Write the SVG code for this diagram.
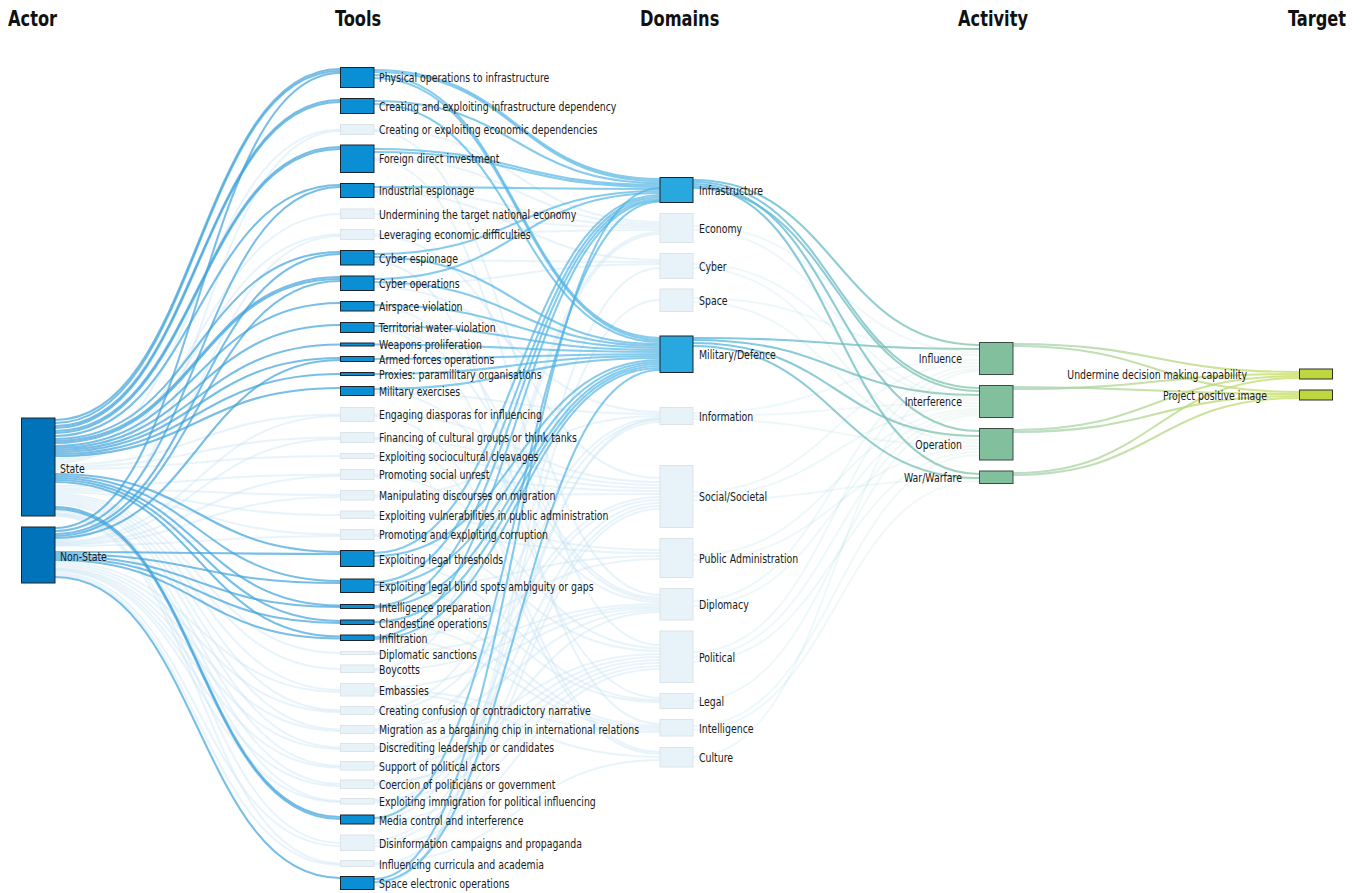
<svg xmlns="http://www.w3.org/2000/svg" width="1367" height="893" viewBox="0 0 1367 893">
<defs>
<linearGradient id="gDA" gradientUnits="userSpaceOnUse" x1="693" y1="0" x2="979" y2="0"><stop offset="0" stop-color="#4fb3e2"/><stop offset="1" stop-color="#86c4a6"/></linearGradient>
<linearGradient id="gAT" gradientUnits="userSpaceOnUse" x1="1013" y1="0" x2="1299" y2="0"><stop offset="0" stop-color="#a3d1b4"/><stop offset="1" stop-color="#c6dd5c"/></linearGradient>
</defs>
<style>
.hd{font-family:"DejaVu Sans Condensed","Liberation Sans",sans-serif;font-size:21px;font-weight:bold;fill:#111;transform-box:fill-box;transform-origin:0 50%;transform:scaleX(0.86)}
.lb{font-family:"DejaVu Sans Condensed","Liberation Sans",sans-serif;font-size:12.5px;fill:#1a1a1a;transform-box:fill-box;transform-origin:0 50%;transform:translate(0,1px) scaleX(0.835)}
.lb.r{text-anchor:end;transform-origin:100% 50%}
.act{fill:#0073bb;stroke:#1c232a;stroke-width:1}
.tool{fill:#0a8ed4;stroke:#1c232a;stroke-width:1}
.dom{fill:#29a8e0;stroke:#1c232a;stroke-width:1}
.lt{fill:#e8f3f9;stroke:#dde4e8;stroke-width:1}
.av{fill:#82bf9c;stroke:#3b4b42;stroke-width:1}
.tg{fill:#bfd73e;stroke:#2d2d2d;stroke-width:1}
.l{fill:none;stroke-width:2.1}
.fa{stroke:#c4e1f2;stroke-opacity:0.38}
.da{stroke:#3ea3dc;stroke-opacity:0.7}
.dt{stroke:#4cb2e3;stroke-opacity:0.68}
.gda{stroke:url(#gDA);stroke-opacity:0.75}
.fda{stroke:url(#gDA);stroke-opacity:0.1}
.gat{stroke:url(#gAT);stroke-opacity:0.75}
</style>
<rect width="1367" height="893" fill="#ffffff"/>
<g id="headers">
<text class="hd" x="8" y="26">Actor</text>
<text class="hd" x="335" y="26">Tools</text>
<text class="hd" x="640" y="26">Domains</text>
<text class="hd" x="958" y="26">Activity</text>
<text class="hd" x="1288" y="26">Target</text>
</g>
<g id="connectors">
<g class="l fa">
<path d="M55 459C197.5 459 197.5 129.5 340 129.5"/>
<path d="M55 461C197.5 461 197.5 214 340 214"/>
<path d="M55 463C197.5 463 197.5 234.5 340 234.5"/>
<path d="M55 465C197.5 465 197.5 414.5 340 414.5"/>
<path d="M55 467C197.5 467 197.5 437.5 340 437.5"/>
<path d="M55 469C197.5 469 197.5 456 340 456"/>
<path d="M55 486C197.5 486 197.5 474.5 340 474.5"/>
<path d="M55 488C197.5 488 197.5 495 340 495"/>
<path d="M55 490C197.5 490 197.5 515 340 515"/>
<path d="M55 492C197.5 492 197.5 534.5 340 534.5"/>
<path d="M55 494C197.5 494 197.5 653 340 653"/>
<path d="M55 496C197.5 496 197.5 669 340 669"/>
<path d="M55 498C197.5 498 197.5 690 340 690"/>
<path d="M55 500C197.5 500 197.5 710.5 340 710.5"/>
<path d="M55 502C197.5 502 197.5 729.5 340 729.5"/>
<path d="M55 504C197.5 504 197.5 747.5 340 747.5"/>
<path d="M55 511C197.5 511 197.5 766 340 766"/>
<path d="M55 513C197.5 513 197.5 784 340 784"/>
<path d="M55 514C197.5 514 197.5 801 340 801"/>
<path d="M55 515C197.5 515 197.5 843 340 843"/>
<path d="M55 516C197.5 516 197.5 863.5 340 863.5"/>
<path d="M55 540C197.5 540 197.5 131 340 131"/>
<path d="M55 541C197.5 541 197.5 236 340 236"/>
<path d="M55 542C197.5 542 197.5 416 340 416"/>
<path d="M55 543C197.5 543 197.5 439 340 439"/>
<path d="M55 544C197.5 544 197.5 476 340 476"/>
<path d="M55 545C197.5 545 197.5 497 340 497"/>
<path d="M55 546C197.5 546 197.5 536 340 536"/>
<path d="M55 562C197.5 562 197.5 692 340 692"/>
<path d="M55 564C197.5 564 197.5 712 340 712"/>
<path d="M55 566C197.5 566 197.5 731 340 731"/>
<path d="M55 568C197.5 568 197.5 749 340 749"/>
<path d="M55 569C197.5 569 197.5 767.5 340 767.5"/>
<path d="M55 570C197.5 570 197.5 786 340 786"/>
<path d="M55 571C197.5 571 197.5 802 340 802"/>
<path d="M55 573C197.5 573 197.5 846 340 846"/>
<path d="M55 575C197.5 575 197.5 865 340 865"/>
<path d="M374 129.5C517 129.5 517 222 660 222"/>
<path d="M374 131C517 131 517 595 660 595"/>
<path d="M374 158C517 158 517 224 660 224"/>
<path d="M374 160C517 160 517 645 660 645"/>
<path d="M374 190C517 190 517 226 660 226"/>
<path d="M374 192C517 192 517 260 660 260"/>
<path d="M374 214C517 214 517 228 660 228"/>
<path d="M374 234.5C517 234.5 517 230 660 230"/>
<path d="M374 236C517 236 517 478 660 478"/>
<path d="M374 260C517 260 517 262 660 262"/>
<path d="M374 262C517 262 517 724 660 724"/>
<path d="M374 285C517 285 517 264 660 264"/>
<path d="M374 287C517 287 517 412 660 412"/>
<path d="M374 307C517 307 517 598 660 598"/>
<path d="M374 328C517 328 517 600 660 600"/>
<path d="M374 330C517 330 517 698 660 698"/>
<path d="M374 391C517 391 517 602 660 602"/>
<path d="M374 393C517 393 517 414 660 414"/>
<path d="M374 414.5C517 414.5 517 482 660 482"/>
<path d="M374 416C517 416 517 752 660 752"/>
<path d="M374 437.5C517 437.5 517 754 660 754"/>
<path d="M374 439C517 439 517 485 660 485"/>
<path d="M374 456C517 456 517 488 660 488"/>
<path d="M374 474.5C517 474.5 517 491 660 491"/>
<path d="M374 476C517 476 517 648 660 648"/>
<path d="M374 495C517 495 517 494 660 494"/>
<path d="M374 497C517 497 517 416 660 416"/>
<path d="M374 515C517 515 517 550 660 550"/>
<path d="M374 534.5C517 534.5 517 553 660 553"/>
<path d="M374 536C517 536 517 651 660 651"/>
<path d="M374 560C517 560 517 700 660 700"/>
<path d="M374 587C517 587 517 702 660 702"/>
<path d="M374 589C517 589 517 556 660 556"/>
<path d="M374 606.5C517 606.5 517 726 660 726"/>
<path d="M374 622.5C517 622.5 517 728 660 728"/>
<path d="M374 638C517 638 517 730 660 730"/>
<path d="M374 639.5C517 639.5 517 559 660 559"/>
<path d="M374 653C517 653 517 604 660 604"/>
<path d="M374 654C517 654 517 232 660 232"/>
<path d="M374 669C517 669 517 234 660 234"/>
<path d="M374 670.5C517 670.5 517 606 660 606"/>
<path d="M374 688C517 688 517 608 660 608"/>
<path d="M374 690C517 690 517 732 660 732"/>
<path d="M374 692C517 692 517 757 660 757"/>
<path d="M374 710C517 710 517 418 660 418"/>
<path d="M374 712C517 712 517 497 660 497"/>
<path d="M374 729C517 729 517 610 660 610"/>
<path d="M374 731C517 731 517 500 660 500"/>
<path d="M374 747C517 747 517 654 660 654"/>
<path d="M374 749C517 749 517 420 660 420"/>
<path d="M374 766C517 766 517 657 660 657"/>
<path d="M374 783C517 783 517 660 660 660"/>
<path d="M374 785C517 785 517 612 660 612"/>
<path d="M374 800C517 800 517 663 660 663"/>
<path d="M374 802C517 802 517 503 660 503"/>
<path d="M374 820C517 820 517 422 660 422"/>
<path d="M374 822C517 822 517 666 660 666"/>
<path d="M374 840C517 840 517 419 660 419"/>
<path d="M374 843C517 843 517 506 660 506"/>
<path d="M374 846C517 846 517 669 660 669"/>
<path d="M374 863C517 863 517 760 660 760"/>
<path d="M374 865C517 865 517 509 660 509"/>
<path d="M374 884C517 884 517 300 660 300"/>
<path d="M374 886C517 886 517 268 660 268"/>
</g>
<g class="l fda">
<path d="M693 226C836 226 836 352 979 352"/>
<path d="M693 230C836 230 836 398 979 398"/>
<path d="M693 264C836 264 836 400 979 400"/>
<path d="M693 268C836 268 836 440 979 440"/>
<path d="M693 298C836 298 836 355 979 355"/>
<path d="M693 302C836 302 836 443 979 443"/>
<path d="M693 413C836 413 836 360 979 360"/>
<path d="M693 416C836 416 836 403 979 403"/>
<path d="M693 419C836 419 836 446 979 446"/>
<path d="M693 492C836 492 836 363 979 363"/>
<path d="M693 496C836 496 836 406 979 406"/>
<path d="M693 500C836 500 836 479 979 479"/>
<path d="M693 555C836 555 836 409 979 409"/>
<path d="M693 560C836 560 836 449 979 449"/>
<path d="M693 601C836 601 836 366 979 366"/>
<path d="M693 606C836 606 836 411 979 411"/>
<path d="M693 652C836 652 836 369 979 369"/>
<path d="M693 657C836 657 836 413 979 413"/>
<path d="M693 662C836 662 836 452 979 452"/>
<path d="M693 701C836 701 836 415 979 415"/>
<path d="M693 726C836 726 836 455 979 455"/>
<path d="M693 730C836 730 836 481 979 481"/>
<path d="M693 757C836 757 836 371 979 371"/>
</g>
<g class="l da">
<path d="M55 420C197.5 420 197.5 69 340 69"/>
<path d="M55 423C197.5 423 197.5 71 340 71"/>
<path d="M55 528C197.5 528 197.5 73 340 73"/>
<path d="M55 426C197.5 426 197.5 100 340 100"/>
<path d="M55 428C197.5 428 197.5 102 340 102"/>
<path d="M55 431C197.5 431 197.5 147 340 147"/>
<path d="M55 433C197.5 433 197.5 149 340 149"/>
<path d="M55 436C197.5 436 197.5 185 340 185"/>
<path d="M55 531C197.5 531 197.5 187 340 187"/>
<path d="M55 439C197.5 439 197.5 252 340 252"/>
<path d="M55 534C197.5 534 197.5 254 340 254"/>
<path d="M55 441C197.5 441 197.5 277 340 277"/>
<path d="M55 443C197.5 443 197.5 279 340 279"/>
<path d="M55 536C197.5 536 197.5 281 340 281"/>
<path d="M55 446C197.5 446 197.5 303 340 303"/>
<path d="M55 448C197.5 448 197.5 325 340 325"/>
<path d="M55 450C197.5 450 197.5 344.5 340 344.5"/>
<path d="M55 452C197.5 452 197.5 358 340 358"/>
<path d="M55 538C197.5 538 197.5 360 340 360"/>
<path d="M55 454C197.5 454 197.5 374 340 374"/>
<path d="M55 456C197.5 456 197.5 388 340 388"/>
<path d="M55 474C197.5 474 197.5 552 340 552"/>
<path d="M55 552C197.5 552 197.5 554 340 554"/>
<path d="M55 476C197.5 476 197.5 581 340 581"/>
<path d="M55 554C197.5 554 197.5 583 340 583"/>
<path d="M55 478C197.5 478 197.5 605.5 340 605.5"/>
<path d="M55 556C197.5 556 197.5 607 340 607"/>
<path d="M55 480C197.5 480 197.5 621 340 621"/>
<path d="M55 558C197.5 558 197.5 623 340 623"/>
<path d="M55 482C197.5 482 197.5 636.5 340 636.5"/>
<path d="M55 560C197.5 560 197.5 638.5 340 638.5"/>
<path d="M55 507C197.5 507 197.5 817 340 817"/>
<path d="M55 509C197.5 509 197.5 819 340 819"/>
<path d="M55 577C197.5 577 197.5 878 340 878"/>
</g>
<g class="l dt">
<path d="M374 70C517 70 517 179 660 179"/>
<path d="M374 72C517 72 517 181 660 181"/>
<path d="M374 75C517 75 517 338 660 338"/>
<path d="M374 78C517 78 517 340 660 340"/>
<path d="M374 101C517 101 517 183 660 183"/>
<path d="M374 104C517 104 517 342 660 342"/>
<path d="M374 149C517 149 517 185 660 185"/>
<path d="M374 152C517 152 517 187 660 187"/>
<path d="M374 187C517 187 517 189 660 189"/>
<path d="M374 254C517 254 517 191 660 191"/>
<path d="M374 257C517 257 517 344 660 344"/>
<path d="M374 279C517 279 517 193 660 193"/>
<path d="M374 282C517 282 517 346 660 346"/>
<path d="M374 305C517 305 517 348 660 348"/>
<path d="M374 326C517 326 517 350 660 350"/>
<path d="M374 344.5C517 344.5 517 352 660 352"/>
<path d="M374 359C517 359 517 354 660 354"/>
<path d="M374 374C517 374 517 356 660 356"/>
<path d="M374 389C517 389 517 358 660 358"/>
<path d="M374 553C517 553 517 195 660 195"/>
<path d="M374 556C517 556 517 360 660 360"/>
<path d="M374 582C517 582 517 197 660 197"/>
<path d="M374 585C517 585 517 362 660 362"/>
<path d="M374 606C517 606 517 199 660 199"/>
<path d="M374 607.5C517 607.5 517 364 660 364"/>
<path d="M374 622C517 622 517 366 660 366"/>
<path d="M374 637C517 637 517 200.5 660 200.5"/>
<path d="M374 639C517 639 517 368 660 368"/>
<path d="M374 818C517 818 517 201.5 660 201.5"/>
<path d="M374 879C517 879 517 188 660 188"/>
<path d="M374 882C517 882 517 370 660 370"/>
</g>
<g class="l gda">
<path d="M693 180C836 180 836 345 979 345"/>
<path d="M693 182C836 182 836 388 979 388"/>
<path d="M693 184C836 184 836 431 979 431"/>
<path d="M693 186C836 186 836 474 979 474"/>
<path d="M693 188C836 188 836 391 979 391"/>
<path d="M693 338C836 338 836 349 979 349"/>
<path d="M693 340C836 340 836 395 979 395"/>
<path d="M693 343C836 343 836 436 979 436"/>
<path d="M693 346C836 346 836 478 979 478"/>
</g>
<g class="l gat">
<path d="M1013 344C1156 344 1156 372 1299 372"/>
<path d="M1013 346C1156 346 1156 392 1299 392"/>
<path d="M1013 387C1156 387 1156 394 1299 394"/>
<path d="M1013 389C1156 389 1156 374 1299 374"/>
<path d="M1013 430C1156 430 1156 376 1299 376"/>
<path d="M1013 432C1156 432 1156 396 1299 396"/>
<path d="M1013 473C1156 473 1156 378 1299 378"/>
<path d="M1013 475C1156 475 1156 398 1299 398"/>
</g>
</g>
<g id="actor-state"><rect class="act" x="21.5" y="418" width="33.5" height="98"/><text class="lb" x="60" y="472">State</text></g>
<g id="actor-nonstate"><rect class="act" x="21.5" y="527" width="33.5" height="56"/><text class="lb" x="60" y="560">Non-State</text></g>
<g id="tool-1"><rect class="tool" x="340.5" y="67.5" width="33.5" height="20"/><text class="lb" x="379" y="81.5">Physical operations to infrastructure</text></g>
<g id="tool-2"><rect class="tool" x="340.5" y="98.5" width="33.5" height="15"/><text class="lb" x="379" y="110">Creating and exploiting infrastructure dependency</text></g>
<g id="tool-3"><rect class="lt" x="340.5" y="124.5" width="33.5" height="10"/><text class="lb" x="379" y="133.5">Creating or exploiting economic dependencies</text></g>
<g id="tool-4"><rect class="tool" x="340.5" y="145" width="33.5" height="27.5"/><text class="lb" x="379" y="162.5">Foreign direct investment</text></g>
<g id="tool-5"><rect class="tool" x="340.5" y="183.5" width="33.5" height="14"/><text class="lb" x="379" y="194.5">Industrial espionage</text></g>
<g id="tool-6"><rect class="lt" x="340.5" y="209" width="33.5" height="9.5"/><text class="lb" x="379" y="218">Undermining the target national economy</text></g>
<g id="tool-7"><rect class="lt" x="340.5" y="229.5" width="33.5" height="10"/><text class="lb" x="379" y="238.5">Leveraging economic difficulties</text></g>
<g id="tool-8"><rect class="tool" x="340.5" y="250.5" width="33.5" height="14.5"/><text class="lb" x="379" y="262">Cyber espionage</text></g>
<g id="tool-9"><rect class="tool" x="340.5" y="276" width="33.5" height="14.5"/><text class="lb" x="379" y="287.5">Cyber operations</text></g>
<g id="tool-10"><rect class="tool" x="340.5" y="301.5" width="33.5" height="9.5"/><text class="lb" x="379" y="310.5">Airspace violation</text></g>
<g id="tool-11"><rect class="tool" x="340.5" y="322.5" width="33.5" height="10"/><text class="lb" x="379" y="331.5">Territorial water violation</text></g>
<g id="tool-12"><rect class="tool" x="340.5" y="343" width="33.5" height="3"/><text class="lb" x="379" y="348.5">Weapons proliferation</text></g>
<g id="tool-13"><rect class="tool" x="340.5" y="356.5" width="33.5" height="5"/><text class="lb" x="379" y="363.5">Armed forces operations</text></g>
<g id="tool-14"><rect class="tool" x="340.5" y="372.5" width="33.5" height="3"/><text class="lb" x="379" y="378.5">Proxies: paramilitary organisations</text></g>
<g id="tool-15"><rect class="tool" x="340.5" y="386.5" width="33.5" height="9"/><text class="lb" x="379" y="395">Military exercises</text></g>
<g id="tool-16"><rect class="lt" x="340.5" y="407.5" width="33.5" height="14"/><text class="lb" x="379" y="418.5">Engaging diasporas for influencing</text></g>
<g id="tool-17"><rect class="lt" x="340.5" y="432.5" width="33.5" height="10"/><text class="lb" x="379" y="441.5">Financing of cultural groups or think tanks</text></g>
<g id="tool-18"><rect class="lt" x="340.5" y="453.5" width="33.5" height="5"/><text class="lb" x="379" y="460">Exploiting sociocultural cleavages</text></g>
<g id="tool-19"><rect class="lt" x="340.5" y="469.5" width="33.5" height="10"/><text class="lb" x="379" y="478.5">Promoting social unrest</text></g>
<g id="tool-20"><rect class="lt" x="340.5" y="490.5" width="33.5" height="9.5"/><text class="lb" x="379" y="499.5">Manipulating discourses on migration</text></g>
<g id="tool-21"><rect class="lt" x="340.5" y="511" width="33.5" height="7.5"/><text class="lb" x="379" y="519">Exploiting vulnerabilities in public administration</text></g>
<g id="tool-22"><rect class="lt" x="340.5" y="529.5" width="33.5" height="10"/><text class="lb" x="379" y="538.5">Promoting and exploiting corruption</text></g>
<g id="tool-23"><rect class="tool" x="340.5" y="550.5" width="33.5" height="16"/><text class="lb" x="379" y="563">Exploiting legal thresholds</text></g>
<g id="tool-24"><rect class="tool" x="340.5" y="579" width="33.5" height="13.5"/><text class="lb" x="379" y="590">Exploiting legal blind spots ambiguity or gaps</text></g>
<g id="tool-25"><rect class="tool" x="340.5" y="604.5" width="33.5" height="4"/><text class="lb" x="379" y="611">Intelligence preparation</text></g>
<g id="tool-26"><rect class="tool" x="340.5" y="620" width="33.5" height="4.5"/><text class="lb" x="379" y="627">Clandestine operations</text></g>
<g id="tool-27"><rect class="tool" x="340.5" y="635" width="33.5" height="5.5"/><text class="lb" x="379" y="642.5">Infiltration</text></g>
<g id="tool-28"><rect class="lt" x="340.5" y="651.5" width="33.5" height="3"/><text class="lb" x="379" y="658">Diplomatic sanctions</text></g>
<g id="tool-29"><rect class="lt" x="340.5" y="665" width="33.5" height="7.5"/><text class="lb" x="379" y="673.5">Boycotts</text></g>
<g id="tool-30"><rect class="lt" x="340.5" y="683.5" width="33.5" height="12.5"/><text class="lb" x="379" y="694.5">Embassies</text></g>
<g id="tool-31"><rect class="lt" x="340.5" y="706.5" width="33.5" height="8"/><text class="lb" x="379" y="714.5">Creating confusion or contradictory narrative</text></g>
<g id="tool-32"><rect class="lt" x="340.5" y="725.5" width="33.5" height="8"/><text class="lb" x="379" y="733.5">Migration as a bargaining chip in international relations</text></g>
<g id="tool-33"><rect class="lt" x="340.5" y="743.5" width="33.5" height="8"/><text class="lb" x="379" y="751.5">Discrediting leadership or candidates</text></g>
<g id="tool-34"><rect class="lt" x="340.5" y="761.5" width="33.5" height="8.5"/><text class="lb" x="379" y="770">Support of political actors</text></g>
<g id="tool-35"><rect class="lt" x="340.5" y="780" width="33.5" height="8.5"/><text class="lb" x="379" y="788.5">Coercion of politicians or government</text></g>
<g id="tool-36"><rect class="lt" x="340.5" y="798.5" width="33.5" height="5.5"/><text class="lb" x="379" y="805.5">Exploiting immigration for political influencing</text></g>
<g id="tool-37"><rect class="tool" x="340.5" y="815" width="33.5" height="9"/><text class="lb" x="379" y="824">Media control and interference</text></g>
<g id="tool-38"><rect class="lt" x="340.5" y="835" width="33.5" height="15.5"/><text class="lb" x="379" y="847.5">Disinformation campaigns and propaganda</text></g>
<g id="tool-39"><rect class="lt" x="340.5" y="860.5" width="33.5" height="6"/><text class="lb" x="379" y="868">Influencing curricula and academia</text></g>
<g id="tool-40"><rect class="tool" x="340.5" y="876.5" width="33.5" height="13"/><text class="lb" x="379" y="887.5">Space electronic operations</text></g>
<g id="dom-infrastructure"><rect class="dom" x="660" y="177.5" width="33" height="25"/><text class="lb" x="699" y="194.5">Infrastructure</text></g>
<g id="dom-economy"><rect class="lt" x="660" y="213.5" width="33" height="29"/><text class="lb" x="699" y="232.5">Economy</text></g>
<g id="dom-cyber"><rect class="lt" x="660" y="253.5" width="33" height="25"/><text class="lb" x="699" y="270.5">Cyber</text></g>
<g id="dom-space"><rect class="lt" x="660" y="289" width="33" height="22.5"/><text class="lb" x="699" y="304.5">Space</text></g>
<g id="dom-military"><rect class="dom" x="660" y="336" width="33" height="36.5"/><text class="lb" x="699" y="358.5">Military/Defence</text></g>
<g id="dom-information"><rect class="lt" x="660" y="407.5" width="33" height="17"/><text class="lb" x="699" y="420.5">Information</text></g>
<g id="dom-social"><rect class="lt" x="660" y="465.5" width="33" height="62"/><text class="lb" x="699" y="500.5">Social/Societal</text></g>
<g id="dom-publicadmin"><rect class="lt" x="660" y="538.5" width="33" height="39"/><text class="lb" x="699" y="562.5">Public Administration</text></g>
<g id="dom-diplomacy"><rect class="lt" x="660" y="588.5" width="33" height="31.5"/><text class="lb" x="699" y="608.5">Diplomacy</text></g>
<g id="dom-political"><rect class="lt" x="660" y="631" width="33" height="51.5"/><text class="lb" x="699" y="661.5">Political</text></g>
<g id="dom-legal"><rect class="lt" x="660" y="693.5" width="33" height="15"/><text class="lb" x="699" y="705.5">Legal</text></g>
<g id="dom-intelligence"><rect class="lt" x="660" y="719.5" width="33" height="16.5"/><text class="lb" x="699" y="732.5">Intelligence</text></g>
<g id="dom-culture"><rect class="lt" x="660" y="747.5" width="33" height="19.5"/><text class="lb" x="699" y="761.5">Culture</text></g>
<g id="act-influence"><rect class="av" x="979.5" y="342.5" width="33.5" height="32"/><text class="lb r" x="962" y="362.5">Influence</text></g>
<g id="act-interference"><rect class="av" x="979.5" y="385.5" width="33.5" height="32"/><text class="lb r" x="962" y="405.5">Interference</text></g>
<g id="act-operation"><rect class="av" x="979.5" y="428.5" width="33.5" height="31.5"/><text class="lb r" x="962" y="448.5">Operation</text></g>
<g id="act-war"><rect class="av" x="979.5" y="471" width="33.5" height="12.5"/><text class="lb r" x="962" y="481.5">War/Warfare</text></g>
<g id="tgt-undermine"><rect class="tg" x="1299.5" y="369" width="33" height="10"/><text class="lb r" x="1247" y="378.5">Undermine decision making capability</text></g>
<g id="tgt-project"><rect class="tg" x="1299.5" y="390" width="33" height="10"/><text class="lb r" x="1267" y="399.5">Project positive image</text></g>
</svg>
